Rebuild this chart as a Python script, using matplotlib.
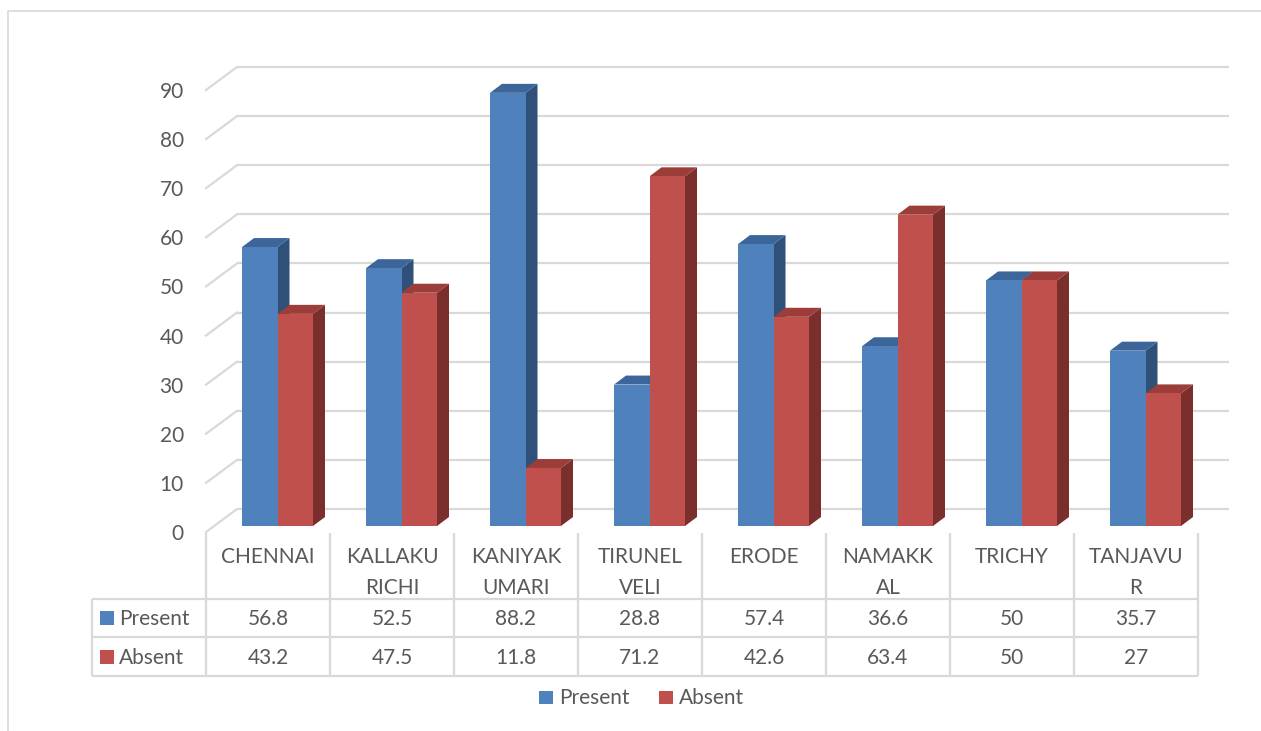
import matplotlib
matplotlib.use("Agg")
import matplotlib.pyplot as plt
from matplotlib.patches import Polygon, Rectangle
from matplotlib import transforms

# ---------------- data ----------------
categories = ["CHENNAI", "KALLAKU\nRICHI", "KANIYAK\nUMARI", "TIRUNEL\nVELI",
              "ERODE", "NAMAKK\nAL", "TRICHY", "TANJAVU\nR"]
series_names = ["Present", "Absent"]
present = [56.8, 52.5, 88.2, 28.8, 57.4, 36.6, 50, 35.7]
absent = [43.2, 47.5, 11.8, 71.2, 42.6, 63.4, 50, 27]
present_labels = ["56.8", "52.5", "88.2", "28.8", "57.4", "36.6", "50", "35.7"]
absent_labels = ["43.2", "47.5", "11.8", "71.2", "42.6", "63.4", "50", "27"]
yticks = list(range(0, 100, 10))

# ---------------- style ----------------
W, H = 1261, 731
FONT = "Lato"
FS = 15
TXT = "#595959"
GRID = "#d9d9d9"
front_cols = ["#4F81BD", "#C0504D"]
top_cols = ["#3C669A", "#9D3D3A"]
side_cols = ["#2F5079", "#7A2F2D"]

plt.rcParams["font.family"] = [FONT, "DejaVu Sans"]

fig = plt.figure(figsize=(W / 100, H / 100), dpi=100)

# overlay axes in pixel layout units (for frame, table, legend)
ov = fig.add_axes([0, 0, 1, 1])
ov.set_xlim(0, W)
ov.set_ylim(H, 0)
ov.axis("off")

# main chart axes: x = category units, y = values (front plane)
px_per_val = 4.911
x0_px, x1_px = 206, 1198
y0_px = 532            # value 0 on front plane
ytop_px = 40
ax = fig.add_axes([x0_px / W, (H - y0_px) / H, (x1_px - x0_px) / W, (y0_px - ytop_px) / H])
ax.set_xlim(0, len(categories))
ax.set_ylim(0, (y0_px - ytop_px) / px_per_val)
ax.patch.set_alpha(0)
for s in ax.spines.values():
    s.set_visible(False)
ax.set_xticks([])
ax.set_yticks(yticks)
ax.tick_params(axis="y", length=0, pad=16, labelsize=FS, labelcolor=TXT)
for lab in ax.get_yticklabels():
    lab.set_fontfamily([FONT, "DejaVu Sans"])

# depth geometry (category units / value units)
col_px = (x1_px - x0_px) / len(categories)
wall_dx = 31 / col_px
wall_dy = 23 / px_per_val
ncat = len(categories)

# back wall gridlines + side wall diagonals
for v in yticks:
    ax.plot([wall_dx, ncat + wall_dx], [v + wall_dy, v + wall_dy], color=GRID,
            lw=1.6, clip_on=False, zorder=1, solid_capstyle="butt")
    ax.plot([0, wall_dx], [v, v + wall_dy], color=GRID, lw=1.6, clip_on=False, zorder=1)

# bars
bar_w = 35.5 / col_px
shift_x = 9.5 / col_px
shift_y = 6 / px_per_val
bdx = 12 / col_px
bdy = 9 / px_per_val
data = [present, absent]
for i in range(ncat):
    for j in range(2):
        v = data[j][i]
        xl = i + 0.5 - bar_w + j * bar_w + shift_x
        xr = xl + bar_w
        yb = shift_y
        yt = v + shift_y
        z = 3 + i * 0.1 + j * 0.01
        ax.add_patch(Polygon([(xr, yb), (xr, yt), (xr + bdx, yt + bdy), (xr + bdx, yb + bdy)],
                             closed=True, facecolor=side_cols[j], edgecolor="none",
                             clip_on=False, zorder=z))
        ax.add_patch(Polygon([(xl, yt), (xr, yt), (xr + bdx, yt + bdy), (xl + bdx, yt + bdy)],
                             closed=True, facecolor=top_cols[j], edgecolor="none",
                             clip_on=False, zorder=z))
        ax.add_patch(Rectangle((xl, yb), bar_w, v, facecolor=front_cols[j],
                               edgecolor="none", clip_on=False, zorder=z + 0.001))

# ---------------- frame ----------------
ov.plot([8, 8, W + 5], [H + 5, 11, 11], color=GRID, lw=1.2, clip_on=False)

# ---------------- table ----------------
tr = transforms.blended_transform_factory(ax.transData, ov.transData)
y_head_top, y_row1, y_row2, y_bot = 533, 599, 637, 676
left_px = 92
for i in range(ncat + 1):
    ov.plot([i, i], [y_head_top, y_bot], color=GRID, lw=1.6, transform=tr, solid_capstyle="butt")
for yy in (y_row1, y_row2, y_bot):
    ov.plot([left_px, x1_px], [yy, yy], color=GRID, lw=1.6, solid_capstyle="butt")
ov.plot([left_px, left_px], [y_row1, y_bot], color=GRID, lw=1.6, solid_capstyle="butt")

for i, name in enumerate(categories):
    ov.text(i + 0.5, 547, name, transform=tr, ha="center", va="top", fontsize=FS,
            color=TXT, linespacing=1.7)
    ov.text(i + 0.5, (y_row1 + y_row2) / 2 + 1, present_labels[i], transform=tr,
            ha="center", va="center", fontsize=FS, color=TXT)
    ov.text(i + 0.5, (y_row2 + y_bot) / 2 + 1, absent_labels[i], transform=tr,
            ha="center", va="center", fontsize=FS, color=TXT)

for r, (yy0, yy1) in enumerate([(y_row1, y_row2), (y_row2, y_bot)]):
    yc = (yy0 + yy1) / 2
    ov.add_patch(Rectangle((100, yc - 7), 14, 14, facecolor=front_cols[r], edgecolor="none"))
    ov.text(119, yc + 1, series_names[r], ha="left", va="center", fontsize=FS, color=TXT)

# ---------------- legend ----------------
leg_y = 697.5
leg_x = [539, 659]
for r in range(2):
    ov.add_patch(Rectangle((leg_x[r], leg_y - 6.5), 14, 13, facecolor=front_cols[r], edgecolor="none"))
    ov.text(leg_x[r] + 20, leg_y + 1, series_names[r], ha="left", va="center",
            fontsize=FS, color=TXT)

fig.savefig("out.png", dpi=100, facecolor="white")
